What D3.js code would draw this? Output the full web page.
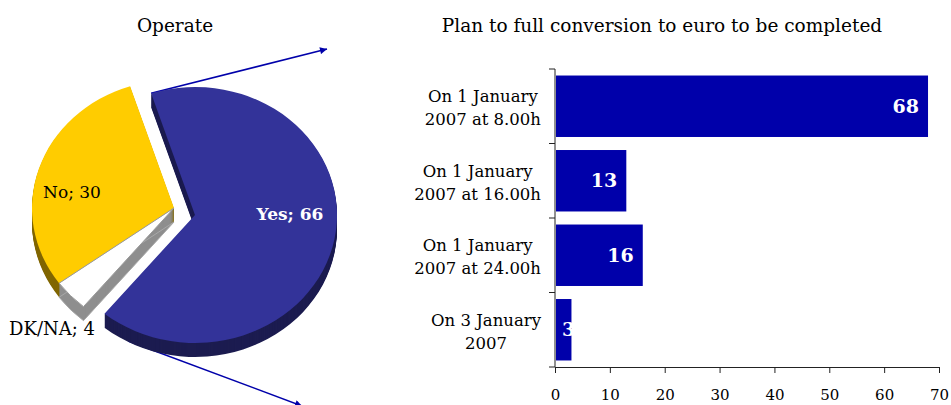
<!DOCTYPE html>
<html>
<head>
<meta charset="utf-8">
<script src="https://cdn.jsdelivr.net/npm/d3@7/dist/d3.min.js"></script>
<style>
  html, body { margin: 0; padding: 0; background: #fff; }
  svg { display: block; }
  text { font-family: "DejaVu Serif", Georgia, serif; }
</style>
</head>
<body>
<svg id="chart" width="951" height="405"></svg>
<script>
// ---- Pie: "Operate" (slices listed clockwise from the start angle)
const pieLabels = ["Yes", "DK/NA", "No"];
const pieValues = [66, 4, 30];

// ---- Bars: "Plan to full conversion to euro to be completed"
const barCategories = [
  "On 1 January\n2007 at 8.00h",
  "On 1 January\n2007 at 16.00h",
  "On 1 January\n2007 at 24.00h",
  "On 3 January\n2007"
];
const barValues = [68, 13, 16, 3];
const xTickValues = [0, 10, 20, 30, 40, 50, 60, 70];

const svg = d3.select("#chart");
const blue = "#0000aa";

// Arrow marker for the connector lines
svg.append("defs").append("marker")
  .attr("id", "arrow")
  .attr("viewBox", "0 0 10 10")
  .attr("refX", 10).attr("refY", 5)
  .attr("markerWidth", 8).attr("markerHeight", 7)
  .attr("markerUnits", "userSpaceOnUse")
  .attr("orient", "auto")
  .append("path").attr("d", "M0,0 L10,5 L0,10 z").attr("fill", blue);

// ================= PIE =================
svg.append("text")
  .attr("x", 175).attr("y", 32)
  .attr("text-anchor", "middle")
  .attr("font-size", 18.5)
  .text("Operate");

const pieCx = 174, pieCy = 208;   // centre of the un-exploded slices
const rx = 142, ry = 128;         // ellipse radii of the tilted top face
const depth = 14;                 // thickness of the 3D disc
const startAngle = -18 * Math.PI / 180;

const pieGen = d3.pie().sort(null).startAngle(startAngle).endAngle(startAngle + 2 * Math.PI);
const arcs = pieGen(pieValues);
const arcGen = d3.arc().innerRadius(0).outerRadius(rx);

const styles = {
  "Yes":   { top: "#333399", side: "#1c1c50", stroke: "none", offset: [21, 7] },
  "DK/NA": { top: "#ffffff", side: "#8e8e8e", stroke: "#9a9a9a", offset: [0, 0] },
  "No":    { top: "#ffcc00", side: "#806600", stroke: "none", offset: [0, 0] }
};

// Connector lines sit beneath the pie
const yesArc = arcs[0];
function rimPoint(angle, off, dz) {
  return [pieCx + off[0] + rx * Math.sin(angle), pieCy + off[1] - ry * Math.cos(angle) + dz];
}
const pA = rimPoint(yesArc.startAngle, styles.Yes.offset, 0);
svg.append("line")
  .attr("x1", pA[0]).attr("y1", pA[1]).attr("x2", 327).attr("y2", 49)
  .attr("stroke", blue).attr("stroke-width", 1.5).attr("marker-end", "url(#arrow)");
svg.append("line")
  .attr("x1", 128).attr("y1", 341).attr("x2", 302).attr("y2", 406)
  .attr("stroke", blue).attr("stroke-width", 1.5).attr("marker-end", "url(#arrow)");

// Draw back-to-front: No, DK/NA, Yes
const drawOrder = ["No", "DK/NA", "Yes"];
const pieG = svg.append("g");
drawOrder.forEach(name => {
  const i = pieLabels.indexOf(name);
  const a = arcs[i];
  const st = styles[name];
  const g = pieG.append("g");
  const cx = pieCx + st.offset[0], cy = pieCy + st.offset[1];
  // extruded side: stacked copies of the slice below the top face
  for (let k = depth; k >= 1; k--) {
    g.append("path")
      .attr("d", arcGen(a))
      .attr("transform", `translate(${cx},${cy + k}) scale(1,${ry / rx})`)
      .attr("fill", st.side);
  }
  if (name === "DK/NA") {
    // lighter outline along the lower rim edge
    g.append("path")
      .attr("d", arcGen(a))
      .attr("transform", `translate(${cx},${cy + depth}) scale(1,${ry / rx})`)
      .attr("fill", "none").attr("stroke", "#a8a8a8")
      .attr("stroke-width", 1).attr("vector-effect", "non-scaling-stroke");
  }
  g.append("path")
    .attr("d", arcGen(a))
    .attr("transform", `translate(${cx},${cy}) scale(1,${ry / rx})`)
    .attr("fill", st.top)
    .attr("stroke", st.stroke)
    .attr("stroke-width", 1)
    .attr("vector-effect", "non-scaling-stroke");
});

// Slice labels
const pieLabelPos = {
  "Yes":   { x: 290, y: 220, fill: "#ffffff", weight: "bold", size: 17 },
  "No":    { x: 72,  y: 198, fill: "#000000", weight: "normal", size: 17 },
  "DK/NA": { x: 52,  y: 335, fill: "#000000", weight: "normal", size: 18 }
};
pieLabels.forEach((name, i) => {
  const p = pieLabelPos[name];
  svg.append("text")
    .attr("x", p.x).attr("y", p.y)
    .attr("text-anchor", "middle")
    .attr("font-size", p.size)
    .attr("font-weight", p.weight)
    .attr("fill", p.fill)
    .text(`${name}; ${pieValues[i]}`);
});

// ================= BARS =================
svg.append("text")
  .attr("x", 662).attr("y", 32)
  .attr("text-anchor", "middle")
  .attr("font-size", 18.5)
  .text("Plan to full conversion to euro to be completed");

const x = d3.scaleLinear().domain([0, 70]).range([555, 939]);
const y = d3.scaleBand().domain(barCategories).range([69, 367]).padding(0);
const barInset = 0.0875;  // gap on each side of a bar, as a fraction of the band

const barG = svg.append("g");
barG.selectAll("rect")
  .data(barValues)
  .join("rect")
  .attr("x", x(0) + 1)
  .attr("y", (d, i) => y(barCategories[i]) + y.bandwidth() * barInset)
  .attr("width", d => x(d) - x(0) - 1)
  .attr("height", y.bandwidth() * (1 - 2 * barInset))
  .attr("fill", blue);

// value labels, right-aligned inside each bar
barG.selectAll("text.val")
  .data(barValues)
  .join("text")
  .attr("class", "val")
  .attr("y", (d, i) => y(barCategories[i]) + y.bandwidth() / 2 + 6.5)
  .attr("text-anchor", "end")
  .attr("font-size", 19)
  .attr("font-weight", "bold")
  .attr("fill", "#fff")
  .text(d => d)
  .each(function (d) {
    const w = this.getComputedTextLength();
    this.setAttribute("x", Math.max(x(d) - 9, x(0) + 7 + w));
  });

// x axis
const xAxis = svg.append("g")
  .attr("transform", `translate(0,367)`)
  .call(d3.axisBottom(x).tickValues(xTickValues).tickSizeInner(6).tickSizeOuter(0).tickPadding(16));
xAxis.select(".domain").attr("stroke", "#222");
xAxis.selectAll(".tick line").attr("stroke", "#222");
xAxis.selectAll(".tick text")
  .attr("font-family", '"DejaVu Serif", Georgia, serif')
  .attr("font-size", 15).attr("fill", "#000");

// y axis: line with ticks at category boundaries
const yAxisG = svg.append("g");
yAxisG.append("line")
  .attr("x1", x(0)).attr("x2", x(0))
  .attr("y1", y.range()[0]).attr("y2", y.range()[1])
  .attr("stroke", "#222");
const bounds = barCategories.map(c => y(c)).concat([y.range()[1]]);
yAxisG.selectAll("line.tick")
  .data(bounds)
  .join("line")
  .attr("class", "tick")
  .attr("x1", x(0) - 6).attr("x2", x(0))
  .attr("y1", d => d).attr("y2", d => d)
  .attr("stroke", "#222");

// category labels: wrapped lines centred within a block right-aligned near the axis
const labelRight = x(0) - 14;
const lineH = 23;
barCategories.forEach(cat => {
  const lines = cat.split("\n");
  const t = yAxisG.append("text")
    .attr("font-size", 16.5)
    .attr("text-anchor", "middle")
    .attr("fill", "#000");
  const cy = y(cat) + y.bandwidth() / 2 + 2;
  const spans = lines.map((ln, j) => t.append("tspan")
    .attr("y", cy + (j - (lines.length - 1) / 2) * lineH + 5.5)
    .text(ln));
  let maxW = 0;
  spans.forEach(s => { maxW = Math.max(maxW, s.node().getComputedTextLength()); });
  spans.forEach(s => s.attr("x", labelRight - maxW / 2));
});
</script>
</body>
</html>
